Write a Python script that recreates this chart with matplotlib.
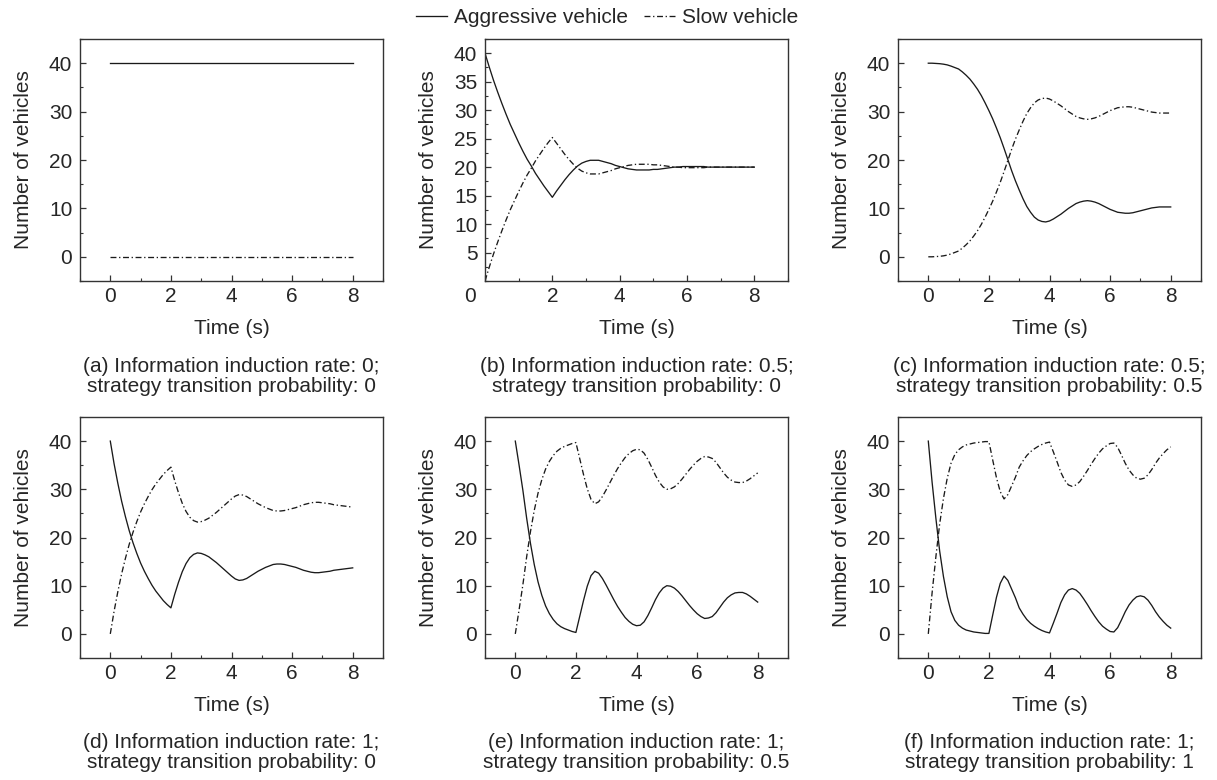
import matplotlib
matplotlib.use('Agg')
import numpy as np
import matplotlib.pyplot as plt
import matplotlib.transforms as mtransforms
from matplotlib.lines import Line2D
from matplotlib.ticker import MultipleLocator

plt.rcParams['font.family'] = ['Liberation Sans', 'DejaVu Sans']
plt.rcParams['font.size'] = 15

# sample times: every 0.125 s from 0 to 8 s (8 values per second + end)
t = np.linspace(0, 8, 65)

# (a) constant case
t_a = [0, 8]
aggr_a = [40, 40]
slow_a = [0, 0]

aggr_b = [40, 37.6, 35.3, 33.2, 31.2, 29.3, 27.5, 25.9,
          24.3, 22.8, 21.4, 20.2, 18.9, 17.8, 16.7, 15.7,
          14.7, 15.8, 16.8, 17.8, 18.7, 19.5, 20.2, 20.7,
          21.0, 21.2, 21.2, 21.2, 21.0, 20.8, 20.6, 20.3,
          20.1, 19.9, 19.7, 19.6, 19.5, 19.5, 19.5, 19.5,
          19.6, 19.6, 19.7, 19.8, 19.9, 20.0, 20.0, 20.1,
          20.1, 20.1, 20.1, 20.1, 20.1, 20.0, 20.0, 20.0,
          20.0, 20.0, 20.0, 20.0, 20.0, 20.0, 20.0, 20.0,
          20.0]
slow_b = [0, 2.4, 4.7, 6.8, 8.8, 10.7, 12.5, 14.1,
          15.7, 17.2, 18.6, 19.8, 21.1, 22.2, 23.3, 24.3,
          25.2, 24.2, 23.2, 22.2, 21.3, 20.5, 19.8, 19.3,
          19.0, 18.8, 18.8, 18.8, 19.0, 19.2, 19.4, 19.7,
          19.9, 20.1, 20.3, 20.4, 20.5, 20.5, 20.5, 20.5,
          20.4, 20.4, 20.3, 20.2, 20.1, 20.0, 20.0, 19.9,
          19.9, 19.9, 19.9, 19.9, 19.9, 20.0, 20.0, 20.0,
          20.0, 20.0, 20.0, 20.0, 20.0, 20.0, 20.0, 20.0,
          20.0]

aggr_c = [40, 40.0, 39.95, 39.9, 39.8, 39.65, 39.4, 39.1,
          38.8, 38.2, 37.5, 36.7, 35.7, 34.6, 33.3, 31.8,
          30.2, 28.5, 26.6, 24.6, 22.4, 20.1, 17.8, 15.7,
          13.8, 12.0, 10.4, 9.2, 8.2, 7.6, 7.3, 7.2,
          7.4, 7.8, 8.3, 8.8, 9.4, 10.0, 10.5, 11.0,
          11.3, 11.5, 11.6, 11.5, 11.3, 11.0, 10.6, 10.2,
          9.8, 9.5, 9.2, 9.1, 9.0, 9.0, 9.1, 9.3,
          9.5, 9.7, 9.9, 10.1, 10.2, 10.3, 10.3, 10.3,
          10.3]
slow_c = [0, 0.0, 0.05, 0.1, 0.2, 0.35, 0.6, 0.9,
          1.2, 1.8, 2.5, 3.3, 4.3, 5.4, 6.7, 8.2,
          9.8, 11.5, 13.4, 15.4, 17.6, 19.9, 22.2, 24.3,
          26.2, 28.0, 29.6, 30.8, 31.8, 32.4, 32.7, 32.8,
          32.6, 32.2, 31.7, 31.2, 30.6, 30.0, 29.5, 29.0,
          28.7, 28.5, 28.4, 28.5, 28.7, 29.0, 29.4, 29.8,
          30.2, 30.5, 30.8, 30.9, 31.0, 31.0, 30.9, 30.7,
          30.5, 30.3, 30.1, 29.9, 29.8, 29.7, 29.7, 29.7,
          29.7]

aggr_d = [40, 35.3, 31.2, 27.5, 24.3, 21.4, 18.9, 16.7,
          14.7, 13.0, 11.5, 10.1, 8.9, 7.9, 6.9, 6.1,
          5.4, 8.2, 10.7, 12.9, 14.6, 15.8, 16.5, 16.8,
          16.7, 16.4, 16.0, 15.4, 14.8, 14.1, 13.4, 12.7,
          12.0, 11.4, 11.1, 11.2, 11.5, 12.0, 12.5, 13.0,
          13.4, 13.8, 14.1, 14.4, 14.5, 14.5, 14.4, 14.2,
          14.0, 13.8, 13.5, 13.2, 13.0, 12.8, 12.7, 12.7,
          12.8, 12.9, 13.0, 13.2, 13.3, 13.4, 13.5, 13.6,
          13.7]
slow_d = [0, 4.7, 8.8, 12.5, 15.7, 18.6, 21.1, 23.3,
          25.3, 27.0, 28.5, 29.9, 31.1, 32.1, 33.1, 33.9,
          34.6, 31.8, 29.3, 27.1, 25.4, 24.2, 23.5, 23.2,
          23.3, 23.6, 24.0, 24.6, 25.2, 25.9, 26.6, 27.3,
          28.0, 28.6, 28.9, 28.8, 28.5, 28.0, 27.5, 27.0,
          26.6, 26.2, 25.9, 25.6, 25.5, 25.5, 25.6, 25.8,
          26.0, 26.2, 26.5, 26.8, 27.0, 27.2, 27.3, 27.3,
          27.2, 27.1, 27.0, 26.8, 26.7, 26.6, 26.5, 26.4,
          26.3]

aggr_e = [40, 35.0, 29.8, 24.0, 18.8, 14.4, 10.8, 8.0,
          5.8, 4.2, 3.0, 2.1, 1.5, 1.1, 0.8, 0.5,
          0.3, 3.6, 6.9, 9.9, 12.1, 13.0, 12.6, 11.5,
          10.1, 8.6, 7.1, 5.7, 4.5, 3.4, 2.6, 2.0,
          1.7, 1.8, 2.5, 3.8, 5.4, 7.1, 8.5, 9.5,
          10.0, 9.9, 9.5, 8.8, 7.9, 6.9, 5.9, 5.0,
          4.2, 3.6, 3.2, 3.3, 3.6, 4.4, 5.5, 6.6,
          7.5, 8.1, 8.5, 8.6, 8.6, 8.3, 7.8, 7.2,
          6.6]
slow_e = [0, 5.0, 10.2, 16.0, 21.2, 25.6, 29.2, 32.0,
          34.2, 35.8, 37.0, 37.9, 38.5, 38.9, 39.2, 39.5,
          39.7, 36.4, 33.1, 30.1, 27.9, 27.0, 27.4, 28.5,
          29.9, 31.4, 32.9, 34.3, 35.5, 36.6, 37.4, 38.0,
          38.3, 38.2, 37.5, 36.2, 34.6, 32.9, 31.5, 30.5,
          30.0, 30.1, 30.5, 31.2, 32.1, 33.1, 34.1, 35.0,
          35.8, 36.4, 36.8, 36.7, 36.4, 35.6, 34.5, 33.4,
          32.5, 31.9, 31.5, 31.4, 31.4, 31.7, 32.2, 32.8,
          33.4]

aggr_f = [40, 31.5, 24.0, 17.2, 11.9, 7.7, 4.6, 2.8,
          1.8, 1.2, 0.8, 0.6, 0.4, 0.3, 0.2, 0.1,
          0.1, 3.9, 7.6, 10.5, 12.0, 11.1, 9.3, 7.5,
          5.4, 4.1, 3.0, 2.2, 1.6, 1.1, 0.7, 0.4,
          0.2, 2.2, 4.3, 6.5, 8.1, 9.1, 9.4, 9.1,
          8.4, 7.3, 6.1, 4.8, 3.6, 2.5, 1.6, 1.0,
          0.5, 0.4, 1.3, 2.9, 4.6, 6.0, 7.0, 7.7,
          7.9, 7.7, 7.0, 5.9, 4.6, 3.5, 2.6, 1.8,
          1.2]
slow_f = [0, 8.5, 16.0, 22.8, 28.1, 32.3, 35.4, 37.2,
          38.2, 38.8, 39.2, 39.4, 39.6, 39.7, 39.8, 39.9,
          39.9, 36.1, 32.4, 29.5, 28.0, 28.9, 30.7, 32.5,
          34.6, 35.9, 37.0, 37.8, 38.4, 38.9, 39.3, 39.6,
          39.8, 37.8, 35.7, 33.5, 31.9, 30.9, 30.6, 30.9,
          31.6, 32.7, 33.9, 35.2, 36.4, 37.5, 38.4, 39.0,
          39.5, 39.6, 38.7, 37.1, 35.4, 34.0, 33.0, 32.3,
          32.1, 32.3, 33.0, 34.1, 35.4, 36.5, 37.4, 38.2,
          38.8]

captions = [
    ("(a) Information induction rate: 0;", "strategy transition probability: 0"),
    ("(b) Information induction rate: 0.5;", "strategy transition probability: 0"),
    ("(c) Information induction rate: 0.5;", "strategy transition probability: 0.5"),
    ("(d) Information induction rate: 1;", "strategy transition probability: 0"),
    ("(e) Information induction rate: 1;", "strategy transition probability: 0.5"),
    ("(f) Information induction rate: 1;", "strategy transition probability: 1"),
]

panels = [
    (t_a, aggr_a, slow_a),
    (t, aggr_b, slow_b),
    (t, aggr_c, slow_c),
    (t, aggr_d, slow_d),
    (t, aggr_e, slow_e),
    (t, aggr_f, slow_f),
]

W, H = 1217, 780
fig = plt.figure(figsize=(W / 100, H / 100), dpi=100)

lefts = [80, 485, 898]
width = 303
rows = [(39, 281), (417, 658)]
cap_base = [(372, 392), (748, 768)]

line_col = '#1a1a1a'
txt_col = '#262626'
dashdot = (0, (4.5, 2, 1, 2))

for i, (tt, aggr, slow) in enumerate(panels):
    r, c = divmod(i, 3)
    top, bot = rows[r]
    ax = fig.add_axes([lefts[c] / W, 1 - bot / H, width / W, (bot - top) / H])
    ax.plot(tt, aggr, color=line_col, lw=0.95, solid_joinstyle='round')
    ax.plot(tt, slow, color=line_col, lw=0.95, linestyle=dashdot)

    if i == 1:
        ax.set_xlim(0, 9)
        ax.set_ylim(0, 42.5)
        ax.set_yticks([5, 10, 15, 20, 25, 30, 35, 40])
        ax.yaxis.set_minor_locator(MultipleLocator(2.5))
    else:
        ax.set_xlim(-1, 9)
        ax.set_ylim(-5, 45)
        ax.set_yticks([0, 10, 20, 30, 40])
        ax.yaxis.set_minor_locator(MultipleLocator(5))
    ax.set_xticks([0, 2, 4, 6, 8])
    ax.xaxis.set_minor_locator(MultipleLocator(1))

    ax.tick_params(which='both', direction='in', top=False, right=False,
                   colors='#333333', labelcolor=txt_col, labelsize=15)
    ax.tick_params(which='major', length=4.5, width=0.9)
    ax.tick_params(which='minor', length=2.5, width=0.8)
    ax.tick_params(axis='x', pad=4.3)
    ax.tick_params(axis='y', pad=5.5)
    for s in ax.spines.values():
        s.set_linewidth(1.0)
        s.set_color('#333333')

    ax.set_xlabel('Time (s)', color=txt_col, fontsize=15)
    ax.set_ylabel('Number of vehicles', color=txt_col, fontsize=15)
    ax.xaxis.set_label_coords(0.5, -0.156)
    ax.yaxis.set_label_coords(-0.156, 0.5)

    if i == 1:
        # the "0" label of panel (b) sits left of the axis corner
        lbl = ax.get_xticklabels()[0]
        lbl.set_transform(lbl.get_transform() +
                          mtransforms.ScaledTranslation(-15 / 100, 0, fig.dpi_scale_trans))

    cx = (lefts[c] + width / 2) / W
    l1, l2 = captions[i]
    b1, b2 = cap_base[r]
    fig.text(cx, 1 - b1 / H, l1, ha='center', va='baseline', color=txt_col, fontsize=15)
    fig.text(cx, 1 - b2 / H, l2, ha='center', va='baseline', color=txt_col, fontsize=15)

handles = [Line2D([], [], color=line_col, lw=0.95),
           Line2D([], [], color=line_col, lw=0.95, linestyle=dashdot)]
fig.legend(handles, ['Aggressive vehicle', 'Slow vehicle'], loc='center',
           bbox_to_anchor=(0.499, 1 - 17.5 / H), ncol=2, frameon=False,
           handlelength=1.45, handletextpad=0.35, columnspacing=0.8,
           borderpad=0, fontsize=15, labelcolor=txt_col)

fig.savefig('out.png', dpi=100)
